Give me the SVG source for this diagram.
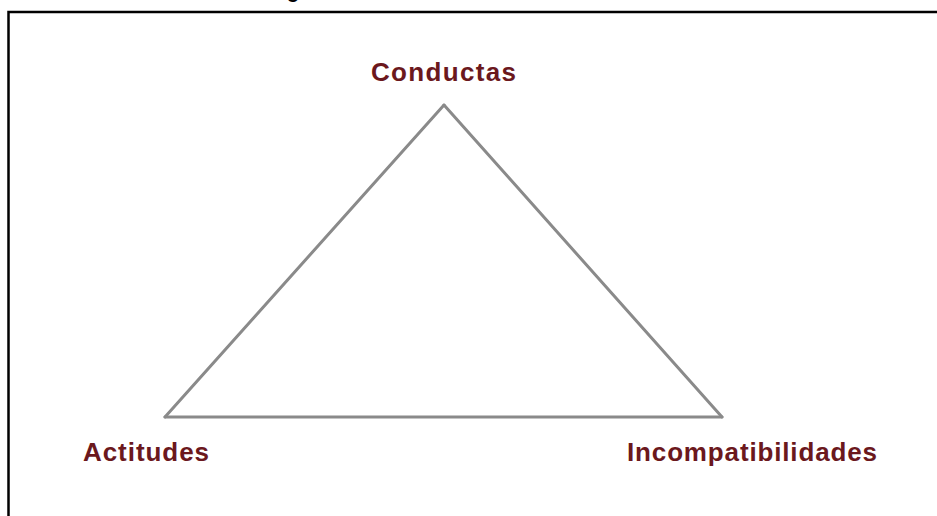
<svg xmlns="http://www.w3.org/2000/svg" width="937" height="516" viewBox="0 0 937 516">
  <style>
    .lbl { font-family: "Liberation Sans", Arial, sans-serif; font-weight: bold; font-size: 26px; fill: #6b181d; }
    .edge { stroke: #8a8a8a; stroke-width: 3; fill: none; stroke-linecap: round; }
  </style>
  <rect width="937" height="516" fill="#ffffff"/>
  <text x="287" y="-2" style="font-family: 'Liberation Sans', Arial, sans-serif; font-weight: bold; font-size: 20px; fill: #000;">g</text>
  <rect x="8.5" y="12" width="940" height="520" fill="none" stroke="#000" stroke-width="2.5"/>
  <g id="connectors">
    <line class="edge" x1="444" y1="105" x2="165" y2="417"/>
    <line class="edge" x1="444" y1="105" x2="722" y2="417"/>
    <line class="edge" x1="165" y1="417" x2="722" y2="417"/>
  </g>
  <g id="conductas">
    <text class="lbl" x="371" y="81" textLength="145" lengthAdjust="spacing">Conductas</text>
  </g>
  <g id="actitudes">
    <text class="lbl" x="83" y="461" textLength="126" lengthAdjust="spacing">Actitudes</text>
  </g>
  <g id="incompatibilidades">
    <text class="lbl" x="627" y="461" textLength="250" lengthAdjust="spacing">Incompatibilidades</text>
  </g>
</svg>
